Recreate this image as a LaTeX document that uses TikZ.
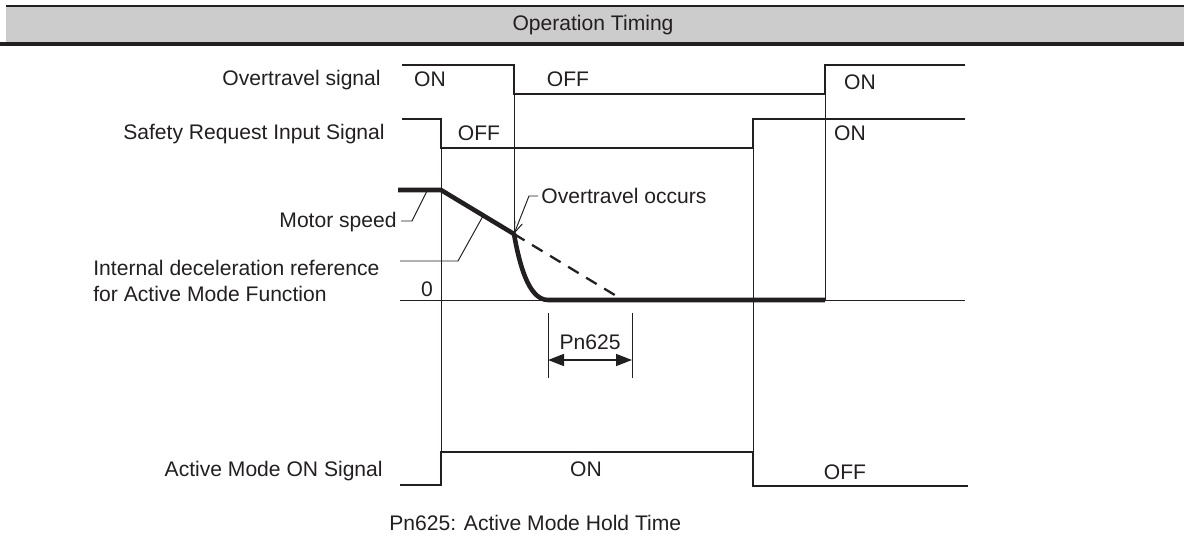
\documentclass[tikz,border=0pt]{standalone}
\usepackage{fontspec}
\setmainfont{Liberation Sans}
\definecolor{bandgray}{RGB}{204, 204, 204}
\definecolor{inkdark}{RGB}{35, 31, 32}
\usetikzlibrary{arrows.meta, positioning, calc}

\tikzset{
  siglabel/.style={font=\fontsize{12}{14.5}\selectfont, text=inkdark, inner sep=0pt},
  wave/.style={draw=inkdark, line width=1.3pt, line join=miter},
  guide/.style={draw=inkdark, line width=0.55pt},
  speed/.style={draw=inkdark, line width=2.6pt, line join=round},
}

\begin{document}
\begin{tikzpicture}[x=0.02cm, y=-0.02cm]
    \useasboundingbox (0,0) rectangle (1184,544);

    % Title band
    \fill[bandgray] (6,7) rectangle (1184,44);
    \draw[inkdark, line width=1.2pt] (6,6) -- (1184,6);
    \draw[inkdark, line width=1.8pt] (0,44) -- (1184,44);
    \node[siglabel] (title) at (593,25) {Operation Timing};

    % Signal names
    \node[siglabel, anchor=east] (otname) at (381,80) {Overtravel signal};
    \node[siglabel, anchor=east] (srname) at (385,134) {Safety Request Input Signal};
    \node[siglabel, anchor=east] (msname) at (397,222) {Motor speed};
    \node[siglabel, anchor=west, align=left] (decname) at (93,281)
      {Internal deceleration reference\\for Active Mode Function};
    \node[siglabel, anchor=east] (amname) at (383,471) {Active Mode ON Signal};
    \node[siglabel] (zero) at (427,289) {0};

    % Overtravel signal
    \draw[wave] (402,65) -- (514,65) -- (514,94) -- (825,94) -- (825,65) -- (965,65);
    \node[siglabel] (ot1) at (430,79) {ON};
    \node[siglabel] (ot2) at (568,79) {OFF};
    \node[siglabel] (ot3) at (860,82) {ON};

    % Safety request input
    \draw[wave] (402,119) -- (441,119) -- (441,148) -- (753,148) -- (753,119) -- (965,119);
    \node[siglabel] (sr1) at (479,133) {OFF};
    \node[siglabel] (sr2) at (850,133) {ON};

    % Active mode ON signal
    \draw[wave] (400,485) -- (441,485) -- (441,452) -- (753,452) -- (753,486) -- (968,486);
    \node[siglabel] (am1) at (586,469) {ON};
    \node[siglabel] (am2) at (845,472) {OFF};

    % Timing guides
    \coordinate (stop) at (441,148);
    \coordinate (otin) at (514,94);
    \coordinate (srup) at (753,148);
    \coordinate (otup) at (825,94);
    \coordinate (hit) at (514,234);
    \draw[guide] (stop) -- (stop |- 0,452);
    \draw[guide] (otin) -- (hit);
    \draw[guide] (srup) -- (srup |- 0,452);
    \draw[guide] (otup) -- (otup |- 0,300);
    \draw[guide] (400,300) -- (965,300);

    % Motor speed
    \draw[dashed, guide, line width=1.3pt, dash pattern=on 7pt off 5pt] (hit) -- (623,300);
    \draw[speed] (398,190) -- (441,190) -- (hit)
      .. controls (519,262) and (528,300) .. (548,300) -- (825,300);

    % Leaders
    \draw[guide] (msname.east) ++(4,-1) -- ++(11,0) -- (427,191);
    \draw[guide] (400,261) -- (458,261) -- (483,216);
    \node[siglabel, anchor=west] (otocc) at (541,196) {Overtravel occurs};
    \draw[guide, -{Straight Barb[length=2.2mm, width=1.6mm]}]
      (otocc.west) ++(-3,0) -- ++(-9,0) -- (hit);

    % Hold time
    \coordinate (hold1) at (548,360);
    \coordinate (hold2) at (632,360);
    \draw[guide] (548,313) -- (548,378);
    \draw[guide] (632,313) -- (632,378);
    \draw[guide, line width=0.9pt, {Triangle[length=3.2mm, width=2.4mm]}-{Triangle[length=3.2mm, width=2.4mm]}]
      (hold1) -- (hold2);
    \node[siglabel] (pn) at (590,342) {Pn625};

    % Note
    \node[siglabel, anchor=west] (note) at (389,523) {Pn625: Active Mode Hold Time};
\end{tikzpicture}
\end{document}
